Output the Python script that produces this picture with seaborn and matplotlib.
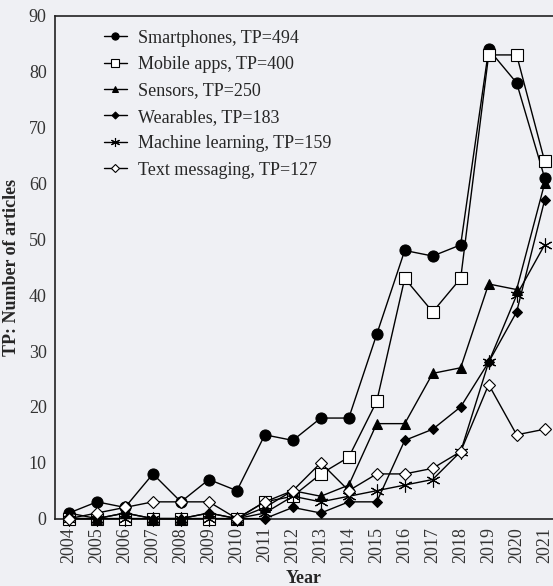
import matplotlib
matplotlib.use("Agg")
import matplotlib.pyplot as plt
import seaborn as sns

# data
years = list(range(2004, 2022))
smartphones = [1, 3, 2, 8, 3, 7, 5, 15, 14, 18, 18, 33, 48, 47, 49, 84, 78, 61]
mobile_apps = [0, 0, 0, 0, 0, 0, 0, 3, 4, 8, 11, 21, 43, 37, 43, 83, 83, 64]
sensors = [1, 0, 1, 0, 0, 1, 0, 2, 5, 4, 6, 17, 17, 26, 27, 42, 41, 60]
wearables = [0, 0, 1, 0, 0, 1, 0, 0, 2, 1, 3, 3, 14, 16, 20, 28, 37, 57]
machine_learning = [0, 0, 0, 0, 0, 0, 0, 1, 4, 3, 4, 5, 6, 7, 12, 28, 40, 49]
text_messaging = [0, 1, 2, 3, 3, 3, 0, 3, 5, 10, 5, 8, 8, 9, 12, 24, 15, 16]

labels = ["Smartphones, TP=494", "Mobile apps, TP=400", "Sensors, TP=250",
          "Wearables, TP=183", "Machine learning, TP=159", "Text messaging, TP=127"]
series = [smartphones, mobile_apps, sensors, wearables, machine_learning, text_messaging]

bg = "#eff0f4"
sns.set_theme(style="ticks")
plt.rcParams["font.family"] = ["Liberation Serif", "DejaVu Serif"]

fig = plt.figure(figsize=(5.53, 5.86), dpi=100, facecolor=bg)
ax = fig.add_axes([0.0995, 0.115, 0.9005, 0.858])
ax.set_facecolor(bg)

styles = [
    dict(marker="o", markersize=8, mfc="black"),
    dict(marker="s", markersize=8, mfc="white", mew=0.8),
    dict(marker="^", markersize=7, mfc="black"),
    dict(marker="D", markersize=5.5, mfc="black"),
    dict(marker=(6, 2, 0), markersize=10, mfc="black", mew=0.8),
    dict(marker="D", markersize=6.5, mfc="white", mew=0.8),
]

for vals, lab, st in zip(series, labels, styles):
    sns.lineplot(x=years, y=vals, ax=ax, color="black", linewidth=1.0,
                 mec="black", label=lab, clip_on=False, zorder=3, **st)

ax.set_xlim(2003.5, 2021.3)
ax.set_ylim(0, 90)
ax.set_xticks(years)
ax.set_xticklabels([str(y) for y in years], rotation=90)
ax.set_yticks(range(0, 91, 10))
ax.tick_params(length=0, labelsize=13, colors="#333333", pad=6)
for s in ["left", "bottom", "top"]:
    ax.spines[s].set_linewidth(1.2)
    ax.spines[s].set_color("#222222")
ax.spines["right"].set_visible(False)

ax.set_xlabel("Year", fontsize=13, fontweight="bold", labelpad=5)
ax.set_ylabel("TP: Number of articles", fontsize=13, fontweight="bold", labelpad=6)

leg = ax.legend(loc="upper left", bbox_to_anchor=(0.065, 1.005), frameon=False,
                fontsize=13, handlelength=1.3, labelspacing=0.52, handletextpad=0.6)
for h in leg.legend_handles:
    h.set_markersize(h.get_markersize() * 0.65)

fig.savefig("out.png", dpi=100, facecolor=bg)
